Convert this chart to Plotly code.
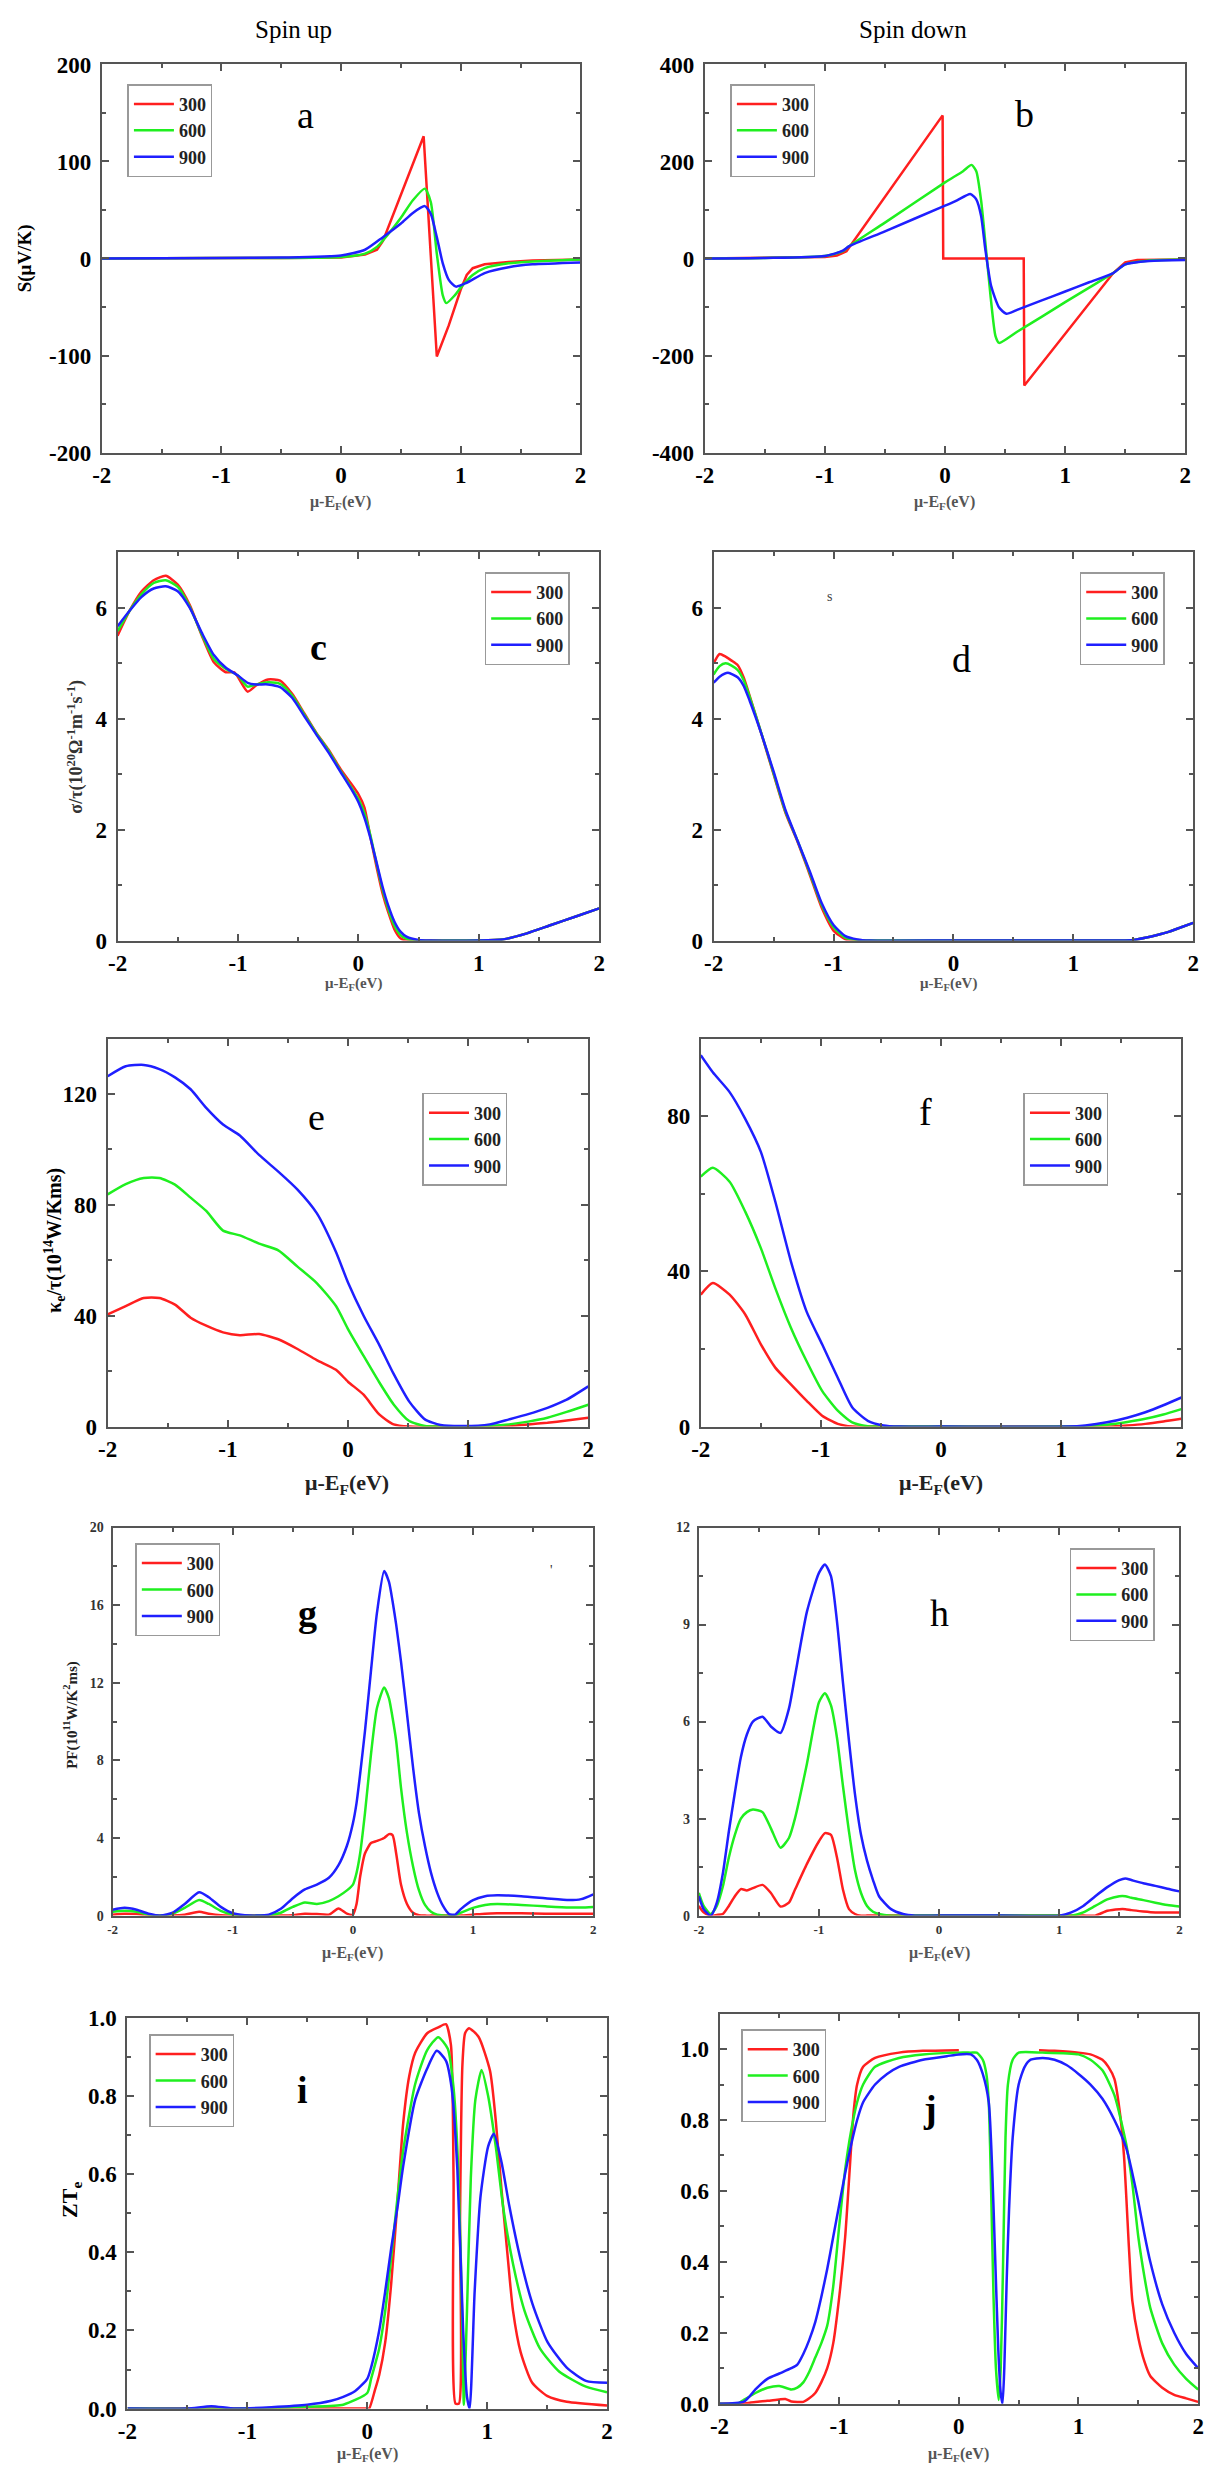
import plotly.graph_objects as go

W, H = 1215, 2481
SERIF = "Liberation Serif"
FRAME = "#555555"

TEMPS = ["300", "600", "900"]
COLORS = ["#ff1f1f", "#1fef1f", "#1f1fff"]

X_TICKS = [-2, -1, 0, 1, 2]

# ---- a: Seebeck, spin up  (x, S in uV/K)
A_300 = [(-2, 0), (-1.5, 0.5), (-1, 0.5), (-0.5, 0.5), (0, 1), (0.2, 4), (0.3, 9), (0.35, 18),
         (0.5, 66), (0.6, 98), (0.69, 126), (0.8, -101), (0.9, -69), (1.0, -32), (1.05, -17),
         (1.1, -10), (1.2, -6), (1.4, -3.5), (1.6, -2), (2.0, -1)]
A_600 = [(-2, 0), (-1, 0.5), (-0.5, 0.5), (0, 1.5), (0.2, 5), (0.3, 12), (0.4, 26), (0.5, 42),
         (0.6, 60), (0.7, 72), (0.75, 58), (0.8, 5), (0.85, -38), (0.88, -46), (0.95, -38),
         (1.0, -30), (1.1, -17), (1.2, -10), (1.4, -5), (1.6, -3), (2.0, -1)]
A_900 = [(-2, 0), (-1, 0.5), (-0.5, 1), (0, 3), (0.2, 9), (0.35, 22), (0.5, 36), (0.6, 47),
         (0.7, 54), (0.75, 46), (0.8, 22), (0.85, -5), (0.9, -22), (0.96, -29), (1.05, -25),
         (1.2, -15), (1.4, -9), (1.6, -6), (2.0, -4)]

# ---- b: Seebeck, spin down
B_300 = [(-2, 0), (-1.5, 1), (-1.0, 3), (-0.9, 6), (-0.82, 15), (-0.02, 295), (-0.015, 0),
         (0.655, 0), (0.66, -262), (1.4, -30), (1.5, -8), (1.6, -3), (1.8, -2), (2.0, -2)]
B_600 = [(-2, 0), (-1.5, 1), (-1.0, 5), (-0.85, 15), (-0.8, 25), (-0.5, 74), (0, 157), (0.15, 180),
         (0.22, 193), (0.26, 180), (0.3, 120), (0.336, 32), (0.38, -80), (0.42, -160), (0.45, -174),
         (0.6, -151), (0.8, -121), (1.0, -90), (1.2, -60), (1.4, -30), (1.5, -12), (1.7, -4), (2.0, -2)]
B_900 = [(-2, 0), (-1.5, 1), (-1.0, 5), (-0.85, 16), (-0.8, 25), (-0.5, 56), (0, 109), (0.1, 120),
         (0.21, 133), (0.26, 122), (0.3, 88), (0.336, 18), (0.384, -57), (0.45, -101), (0.51, -114),
         (0.6, -106), (0.8, -87), (1.0, -68), (1.2, -49), (1.4, -30), (1.5, -12), (1.7, -5), (2.0, -3)]

# ---- c: sigma/tau, spin up
C_300 = [(-2, 5.5), (-1.9, 5.95), (-1.8, 6.3), (-1.7, 6.5), (-1.6, 6.58), (-1.5, 6.42), (-1.4, 6.05),
         (-1.3, 5.5), (-1.2, 5.02), (-1.1, 4.84), (-1.03, 4.84), (-0.92, 4.49), (-0.85, 4.6),
         (-0.75, 4.71), (-0.65, 4.69), (-0.55, 4.45), (-0.45, 4.1), (-0.35, 3.75), (-0.25, 3.45),
         (-0.15, 3.1), (-0.05, 2.8), (0.0, 2.64), (0.05, 2.4), (0.1, 1.87), (0.15, 1.34), (0.2, 0.86),
         (0.25, 0.5), (0.3, 0.2), (0.35, 0.04), (0.4, 0), (0.6, 0), (0.8, 0), (1.0, 0), (1.2, 0.02),
         (1.4, 0.13), (1.6, 0.28), (1.8, 0.43), (2.0, 0.58)]
C_600 = [(-2, 5.58), (-1.9, 5.95), (-1.8, 6.25), (-1.7, 6.45), (-1.6, 6.5), (-1.5, 6.38), (-1.4, 6.02),
         (-1.3, 5.52), (-1.2, 5.08), (-1.1, 4.9), (-1.0, 4.78), (-0.92, 4.58), (-0.85, 4.62),
         (-0.75, 4.66), (-0.65, 4.63), (-0.55, 4.42), (-0.45, 4.08), (-0.35, 3.74), (-0.25, 3.43),
         (-0.15, 3.07), (-0.05, 2.73), (0.0, 2.55), (0.05, 2.3), (0.1, 1.9), (0.15, 1.4), (0.2, 0.93),
         (0.25, 0.56), (0.3, 0.27), (0.35, 0.1), (0.4, 0.03), (0.5, 0), (0.8, 0), (1.0, 0), (1.2, 0.02),
         (1.4, 0.13), (1.6, 0.28), (1.8, 0.43), (2.0, 0.58)]
C_900 = [(-2, 5.67), (-1.9, 5.95), (-1.8, 6.2), (-1.7, 6.35), (-1.6, 6.39), (-1.5, 6.3), (-1.4, 6.0),
         (-1.3, 5.55), (-1.2, 5.15), (-1.1, 4.92), (-1.0, 4.78), (-0.92, 4.65), (-0.85, 4.62),
         (-0.75, 4.62), (-0.65, 4.57), (-0.55, 4.38), (-0.45, 4.05), (-0.35, 3.72), (-0.25, 3.4),
         (-0.15, 3.05), (-0.05, 2.7), (0.0, 2.5), (0.05, 2.22), (0.1, 1.85), (0.15, 1.42), (0.2, 0.98),
         (0.25, 0.62), (0.3, 0.34), (0.35, 0.16), (0.4, 0.07), (0.5, 0.01), (0.6, 0), (1.0, 0),
         (1.2, 0.02), (1.4, 0.13), (1.6, 0.28), (1.8, 0.43), (2.0, 0.58)]

# ---- d: sigma/tau, spin down
D_300 = [(-2, 5.0), (-1.95, 5.17), (-1.9, 5.12), (-1.85, 5.05), (-1.8, 4.97), (-1.75, 4.75), (-1.7, 4.42),
         (-1.6, 3.72), (-1.5, 3.0), (-1.4, 2.3), (-1.3, 1.78), (-1.2, 1.2), (-1.1, 0.6), (-1.0, 0.18),
         (-0.9, 0.02), (-0.85, 0), (0, 0), (1.0, 0), (1.4, 0), (1.5, 0.01), (1.6, 0.05), (1.7, 0.1),
         (1.8, 0.16), (1.9, 0.24), (2.0, 0.32)]
D_600 = [(-2, 4.8), (-1.95, 4.95), (-1.9, 5.0), (-1.85, 4.96), (-1.8, 4.88), (-1.75, 4.7), (-1.7, 4.4),
         (-1.6, 3.73), (-1.5, 3.02), (-1.4, 2.32), (-1.3, 1.8), (-1.2, 1.23), (-1.1, 0.65), (-1.0, 0.24),
         (-0.9, 0.05), (-0.8, 0.01), (-0.7, 0), (0, 0), (1.0, 0), (1.4, 0), (1.5, 0.01), (1.6, 0.05),
         (1.7, 0.1), (1.8, 0.16), (1.9, 0.24), (2.0, 0.32)]
D_900 = [(-2, 4.65), (-1.95, 4.76), (-1.88, 4.83), (-1.8, 4.75), (-1.75, 4.6), (-1.7, 4.33), (-1.6, 3.72),
         (-1.5, 3.05), (-1.4, 2.35), (-1.3, 1.8), (-1.2, 1.26), (-1.1, 0.68), (-1.0, 0.28), (-0.9, 0.08),
         (-0.8, 0.02), (-0.7, 0), (0, 0), (1.0, 0), (1.4, 0), (1.5, 0.01), (1.6, 0.05), (1.7, 0.1),
         (1.8, 0.16), (1.9, 0.24), (2.0, 0.32)]

# ---- e: kappa_e/tau, spin up
E_X = [-2, -1.85, -1.7, -1.57, -1.44, -1.31, -1.18, -1.04, -0.9, -0.74, -0.58, -0.42, -0.26, -0.1,
       0, 0.13, 0.26, 0.38, 0.51, 0.64, 0.77, 0.96, 1.18, 1.34, 1.5, 1.66, 1.82, 2.0]
E_300 = [40.5, 43.5, 46.4, 46.4, 44, 39.3, 36.4, 34, 33, 33.4, 31.5, 28, 24, 20.5,
         16.2, 11.5, 4.4, 0.8, 0, 0, 0, 0, 0.1, 0.3, 0.8, 1.4, 2.2, 3.2]
E_600 = [83.8, 87.5, 89.7, 89.7, 87.3, 82.6, 77.8, 70.7, 69, 66, 63.6, 57.7, 51.8, 43.5,
         35.2, 25.5, 16, 8, 2, 0.2, 0, 0, 0.3, 0.8, 1.8, 3.2, 5.3, 7.9]
E_900 = [126.4, 130, 130.5, 129, 126, 121.7, 115, 109, 105, 98, 92, 85.5, 77, 63,
         52, 40, 29.5, 19, 9, 2.6, 0.6, 0.2, 0.8, 2.6, 4.5, 6.75, 9.7, 14.5]

# ---- f: kappa_e/tau, spin down
F_X = [-2, -1.9, -1.76, -1.63, -1.5, -1.38, -1.25, -1.12, -0.99, -0.86, -0.74, -0.61, -0.48, -0.35,
       0, 1.06, 1.2, 1.38, 1.55, 1.7, 1.85, 2.0]
F_300 = [34, 37, 34, 28.9, 21.2, 15.2, 10.9, 6.7, 2.8, 0.7, 0, 0, 0, 0,
         0, 0, 0, 0, 0.3, 0.7, 1.3, 2.0]
F_600 = [64.4, 66.7, 63.1, 55.4, 46, 35.7, 25.5, 16.9, 9.2, 4.1, 1.1, 0.1, 0, 0,
         0, 0, 0.1, 0.5, 1.2, 2.0, 3.1, 4.5]
F_900 = [95.7, 91.3, 86.2, 79.3, 70.8, 58, 42.6, 29.7, 21.2, 12.6, 5, 1.5, 0.3, 0,
         0, 0, 0.3, 1.1, 2.3, 3.7, 5.5, 7.5]

# ---- g: power factor, spin up
G_X = [-2, -1.9, -1.8, -1.7, -1.6, -1.5, -1.4, -1.28, -1.2, -1.1,
       -1.0, -0.9, -0.8, -0.7, -0.6, -0.5, -0.4, -0.3, -0.2, -0.12,
       -0.05, 0.0, 0.03, 0.06, 0.1, 0.15, 0.2, 0.26, 0.3, 0.33,
       0.36, 0.4, 0.45, 0.5, 0.55, 0.6, 0.65, 0.7, 0.75, 0.8,
       0.85, 0.9, 1.0, 1.1, 1.2, 1.4, 1.6, 1.8, 1.9, 2.0]
G_300 = [0.05, 0.1, 0.08, 0.02, 0, 0, 0.05, 0.2, 0.1, 0.02,
         0, 0, 0, 0, 0, 0.02, 0.1, 0.08, 0.05, 0.37,
         0.1, 0.05, 0.6, 2.0, 3.2, 3.74, 3.85, 4.0, 4.2, 4.15,
         3.2, 1.6, 0.6, 0.15, 0.02, 0, 0, 0, 0, 0,
         0, 0, 0.05, 0.1, 0.12, 0.12, 0.1, 0.1, 0.1, 0.1]
G_600 = [0.2, 0.25, 0.2, 0.05, 0, 0.1, 0.4, 0.8, 0.6, 0.25,
         0.05, 0, 0, 0.02, 0.15, 0.45, 0.68, 0.6, 0.75, 1.0,
         1.3, 1.6, 2.2, 3.2, 5.27, 8.3, 10.7, 11.76, 11.2, 10.2,
         9.0, 6.6, 4.25, 2.55, 1.3, 0.55, 0.2, 0.05, 0.01, 0,
         0.02, 0.15, 0.4, 0.55, 0.6, 0.55, 0.48, 0.42, 0.42, 0.45]
G_900 = [0.3, 0.4, 0.3, 0.1, 0.0, 0.15, 0.6, 1.2, 0.95, 0.45,
         0.12, 0.02, 0, 0.05, 0.35, 0.9, 1.35, 1.6, 1.95, 2.6,
         3.6, 4.76, 5.8, 7.3, 9.5, 12.6, 15.6, 17.76, 17.2, 16.2,
         15.0, 13.1, 10.4, 7.65, 5.27, 3.57, 2.2, 1.2, 0.5, 0.08,
         0.05, 0.35, 0.8, 1.0, 1.05, 1.0, 0.9, 0.8, 0.85, 1.1]

# ---- h: power factor, spin down
H_X = [-2, -1.96, -1.9, -1.85, -1.8, -1.75, -1.7, -1.65, -1.6, -1.55,
       -1.47, -1.4, -1.32, -1.25, -1.2, -1.1, -1.0, -0.95, -0.9, -0.85,
       -0.8, -0.75, -0.7, -0.65, -0.6, -0.55, -0.5, -0.4, -0.3, -0.2,
       0, 0.5, 1.0, 1.1, 1.2, 1.3, 1.4, 1.5, 1.55, 1.6,
       1.7, 1.8, 1.9, 2.0]
H_300 = [0.3, 0.1, 0, 0.02, 0.05, 0.3, 0.6, 0.82, 0.78, 0.85,
         0.95, 0.7, 0.28, 0.4, 0.8, 1.6, 2.3, 2.55, 2.5, 1.8,
         0.8, 0.2, 0.05, 0, 0, 0, 0, 0, 0, 0,
         0, 0, 0, 0, 0, 0, 0.15, 0.2, 0.2, 0.17,
         0.13, 0.1, 0.1, 0.1]
H_600 = [0.7, 0.3, 0.05, 0.3, 0.9, 1.8, 2.5, 3.0, 3.2, 3.28,
         3.2, 2.7, 2.1, 2.4, 3.0, 4.7, 6.6, 6.88, 6.5, 5.5,
         4.0, 2.6, 1.4, 0.7, 0.3, 0.12, 0.05, 0, 0, 0,
         0, 0, 0, 0, 0.1, 0.3, 0.5, 0.6, 0.6, 0.55,
         0.48, 0.4, 0.33, 0.28]
H_900 = [0.6, 0.2, 0.0, 0.4, 1.3, 2.6, 3.8, 4.9, 5.6, 6.0,
         6.15, 5.85, 5.65, 6.4, 7.4, 9.4, 10.6, 10.86, 10.5, 9.1,
         7.2, 5.4, 3.75, 2.5, 1.7, 1.1, 0.6, 0.2, 0.05, 0,
         0, 0, 0, 0.1, 0.3, 0.6, 0.88, 1.1, 1.15, 1.1,
         1.0, 0.92, 0.83, 0.75]

# ---- i: ZTe, spin up
I_300 = [(-2, 0), (-1, 0), (0, 0), (0.016, 0), (0.064, 0.047), (0.1, 0.086), (0.15, 0.17), (0.2, 0.32),
         (0.25, 0.52), (0.3, 0.73), (0.35, 0.85), (0.4, 0.91), (0.5, 0.96), (0.592, 0.975), (0.656, 0.983),
         (0.698, 0.93), (0.72, 0.59), (0.736, 0.013), (0.765, 0.013), (0.774, 0.49), (0.794, 0.88),
         (0.816, 0.96), (0.848, 0.973), (0.928, 0.951), (1.024, 0.864), (1.072, 0.737), (1.12, 0.56),
         (1.168, 0.40), (1.216, 0.25), (1.28, 0.144), (1.376, 0.066), (1.504, 0.032), (1.664, 0.0175),
         (2.0, 0.008)]
I_600 = [(-2, 0), (-1, 0), (-0.5, 0.005), (-0.2, 0.01), (0.0, 0.04), (0.032, 0.076), (0.1, 0.154),
         (0.15, 0.25), (0.2, 0.387), (0.25, 0.533), (0.3, 0.66), (0.4, 0.83), (0.5, 0.917), (0.592, 0.95),
         (0.672, 0.92), (0.72, 0.82), (0.762, 0.59), (0.794, 0.2), (0.806, 0.01), (0.832, 0.25),
         (0.864, 0.59), (0.902, 0.79), (0.954, 0.866), (1.008, 0.8), (1.072, 0.67), (1.136, 0.51),
         (1.216, 0.37), (1.312, 0.25), (1.44, 0.154), (1.6, 0.095), (1.824, 0.056), (2.0, 0.042)]
I_900 = [(-2, 0), (-1.5, 0), (-1.3, 0.006), (-1.1, 0), (-0.5, 0.01), (-0.3, 0.02), (-0.2, 0.03),
         (-0.1, 0.045), (0.0, 0.076), (0.032, 0.105), (0.1, 0.2), (0.15, 0.30), (0.2, 0.41), (0.25, 0.51),
         (0.3, 0.62), (0.4, 0.79), (0.5, 0.87), (0.58, 0.915), (0.656, 0.89), (0.704, 0.82), (0.752, 0.61),
         (0.8, 0.2), (0.832, 0.03), (0.854, 0), (0.896, 0.3), (0.944, 0.54), (1.008, 0.67), (1.056, 0.703),
         (1.12, 0.63), (1.184, 0.52), (1.28, 0.38), (1.376, 0.27), (1.504, 0.17), (1.664, 0.105),
         (1.824, 0.071), (2.0, 0.066)]

# ---- j: ZTe, spin down (300 K has no points between 0 and 0.67)
J_300 = [(-2, 0), (-1.8, 0), (-1.7, 0.005), (-1.6, 0.008), (-1.5, 0.012), (-1.45, 0.013), (-1.4, 0.006),
         (-1.3, 0.005), (-1.25, 0.015), (-1.2, 0.03), (-1.15, 0.06), (-1.1, 0.1), (-1.05, 0.17),
         (-1.0, 0.3), (-0.95, 0.47), (-0.92, 0.62), (-0.88, 0.82), (-0.85, 0.9), (-0.8, 0.95),
         (-0.7, 0.975), (-0.5, 0.99), (-0.3, 0.995), (0.0, 0.997), (0.3, None), (0.67, 0.997),
         (0.8, 0.995), (1.0, 0.99), (1.1, 0.985), (1.2, 0.97), (1.25, 0.95), (1.3, 0.916), (1.35, 0.81),
         (1.38, 0.7), (1.4, 0.58), (1.42, 0.45), (1.45, 0.29), (1.5, 0.186), (1.55, 0.12), (1.6, 0.078),
         (1.7, 0.045), (1.8, 0.025), (1.9, 0.015), (2.0, 0.005)]
J_600 = [(-2, 0), (-1.85, 0), (-1.8, 0.01), (-1.7, 0.03), (-1.6, 0.045), (-1.5, 0.05), (-1.4, 0.04),
         (-1.35, 0.045), (-1.3, 0.06), (-1.25, 0.09), (-1.2, 0.13), (-1.15, 0.17), (-1.1, 0.22),
         (-1.05, 0.33), (-1.0, 0.5), (-0.95, 0.66), (-0.9, 0.77), (-0.85, 0.85), (-0.8, 0.9),
         (-0.7, 0.95), (-0.5, 0.975), (-0.3, 0.985), (0.0, 0.99), (0.1, 0.99), (0.15, 0.99), (0.2, 0.97),
         (0.23, 0.93), (0.25, 0.85), (0.27, 0.6), (0.29, 0.3), (0.31, 0.1), (0.333, 0.01), (0.35, 0.1),
         (0.37, 0.4), (0.39, 0.75), (0.41, 0.9), (0.45, 0.97), (0.5, 0.99), (0.7, 0.99), (1.0, 0.985),
         (1.1, 0.97), (1.2, 0.94), (1.3, 0.87), (1.4, 0.73), (1.45, 0.62), (1.5, 0.47), (1.55, 0.36),
         (1.6, 0.27), (1.7, 0.17), (1.8, 0.11), (1.9, 0.07), (2.0, 0.04)]
J_900 = [(-2, 0), (-1.8, 0.005), (-1.75, 0.02), (-1.7, 0.04), (-1.6, 0.07), (-1.5, 0.085), (-1.4, 0.1),
         (-1.35, 0.11), (-1.3, 0.14), (-1.25, 0.18), (-1.2, 0.23), (-1.15, 0.3), (-1.1, 0.38),
         (-1.05, 0.47), (-1.0, 0.56), (-0.95, 0.65), (-0.9, 0.73), (-0.85, 0.8), (-0.8, 0.85),
         (-0.7, 0.9), (-0.6, 0.93), (-0.5, 0.95), (-0.3, 0.97), (-0.1, 0.98), (0.0, 0.985), (0.1, 0.985),
         (0.15, 0.97), (0.2, 0.93), (0.25, 0.85), (0.28, 0.65), (0.3, 0.45), (0.33, 0.15), (0.35, 0.03),
         (0.365, 0), (0.38, 0.1), (0.4, 0.35), (0.42, 0.55), (0.45, 0.75), (0.5, 0.9), (0.55, 0.95),
         (0.6, 0.97), (0.7, 0.975), (0.8, 0.97), (0.9, 0.955), (1.0, 0.93), (1.1, 0.9), (1.2, 0.86),
         (1.3, 0.8), (1.4, 0.72), (1.45, 0.65), (1.5, 0.57), (1.55, 0.48), (1.6, 0.4), (1.7, 0.28),
         (1.8, 0.2), (1.9, 0.14), (2.0, 0.1)]


def unzip(pairs):
    return [p[0] for p in pairs], [p[1] for p in pairs]


def shared(xs, ys):
    if len(xs) != len(ys):
        raise ValueError(f"length mismatch {len(xs)} vs {len(ys)}")
    return xs, ys


XT_TEXT = "μ-E<sub>F</sub>(eV)"

# box = (left, top, right, bottom) in page pixels
PANELS = [
    dict(box=(93, 53, 578, 445), yr=[-200, 200], yt=[-200, -100, 0, 100, 200], ymin=50, fmt="{:g}",
         tfs=23, curves=[unzip(A_300), unzip(A_600), unzip(A_900)], shapes=["linear", "spline", "spline"],
         leg=(119, 73), lab="a", lxy=(-0.30, 148), lbold=False,
         ytitle=("S(μV/K)", 16, 249, 19, "black"), xtitle=(335, 495, 16, "#555")),
    dict(box=(704, 53, 1191, 445), yr=[-400, 400], yt=[-400, -200, 0, 200, 400], ymin=100, fmt="{:g}",
         tfs=23, curves=[unzip(B_300), unzip(B_600), unzip(B_900)], shapes=["linear", "spline", "spline"],
         leg=(730, 73), lab="b", lxy=(0.66, 297), lbold=False,
         ytitle=None, xtitle=(947, 495, 16, "#555")),
    dict(box=(109, 546, 597, 938), yr=[0, 7], yt=[0, 2, 4, 6], ymin=1, fmt="{:g}",
         tfs=23, curves=[unzip(C_300), unzip(C_600), unzip(C_900)], shapes=["spline"] * 3,
         leg=(481, 566), lab="c", lxy=(-0.33, 5.29), lbold=True,
         ytitle=("σ/τ(10<sup>20</sup>Ω<sup>-1</sup>m<sup>-1</sup>s<sup>-1</sup>)", 66, 742, 18, "#333"),
         xtitle=(348, 982, 15, "#555")),
    dict(box=(713, 546, 1199, 938), yr=[0, 7], yt=[0, 2, 4, 6], ymin=1, fmt="{:g}",
         tfs=23, curves=[unzip(D_300), unzip(D_600), unzip(D_900)], shapes=["spline"] * 3,
         leg=(1084, 566), lab="d", lxy=(0.07, 5.08), lbold=False,
         ytitle=None, xtitle=(951, 982, 15, "#555")),
    dict(box=(99, 1037, 586, 1429), yr=[0, 140], yt=[0, 40, 80, 120], ymin=20, fmt="{:g}",
         tfs=23, curves=[shared(E_X, E_300), shared(E_X, E_600), shared(E_X, E_900)], shapes=["spline"] * 3,
         leg=(418, 1092), lab="e", lxy=(-0.26, 111.7), lbold=False,
         ytitle=("κ<sub>e</sub>/τ(10<sup>14</sup>W/Kms)", 46, 1241, 20, "black"),
         xtitle=(342, 1487, 22, "#222")),
    dict(box=(700, 1037, 1187, 1429), yr=[0, 100], yt=[0, 40, 80], ymin=20, fmt="{:g}",
         tfs=23, curves=[shared(F_X, F_300), shared(F_X, F_600), shared(F_X, F_900)], shapes=["spline"] * 3,
         leg=(1027, 1092), lab="f", lxy=(-0.13, 81), lbold=False,
         ytitle=None, xtitle=(943, 1487, 22, "#222")),
    dict(box=(104, 1531, 591, 1923), yr=[0, 20], yt=[0, 4, 8, 12, 16, 20], ymin=2, fmt="{:g}",
         tfs=13, curves=[shared(G_X, G_300), shared(G_X, G_600), shared(G_X, G_900)], shapes=["spline"] * 3,
         leg=(127, 1547), lab="g", lxy=(-0.38, 15.6), lbold=True,
         ytitle=("PF(10<sup>11</sup>W/K<sup>2</sup>ms)", 62, 1720, 15, "#222"),
         xtitle=(347, 1961, 16, "#555")),
    dict(box=(698, 1531, 1185, 1923), yr=[0, 12], yt=[0, 3, 6, 9, 12], ymin=1.5, fmt="{:g}",
         tfs=13, curves=[shared(H_X, H_300), shared(H_X, H_600), shared(H_X, H_900)], shapes=["spline"] * 3,
         leg=(1074, 1552), lab="h", lxy=(0.0, 9.37), lbold=False,
         ytitle=None, xtitle=(942, 1961, 16, "#555")),
    dict(box=(119, 2026, 605, 2421), yr=[0, 1.0], yt=[0, 0.2, 0.4, 0.6, 0.8, 1.0], ymin=0.1, fmt="{:.1f}",
         tfs=23, curves=[unzip(I_300), unzip(I_600), unzip(I_900)], shapes=["spline"] * 3,
         leg=(141, 2043), lab="i", lxy=(-0.54, 0.815), lbold=True,
         ytitle=("ZT<sub>e</sub>", 62, 2210, 22, "black"), xtitle=(362, 2467, 16, "#555")),
    dict(box=(719, 2022, 1204, 2416), yr=[0, 1.1], yt=[0, 0.2, 0.4, 0.6, 0.8, 1.0], ymin=0.1, fmt="{:.1f}",
         tfs=23, curves=[unzip(J_300), unzip(J_600), unzip(J_900)], shapes=["spline"] * 3,
         leg=(741, 2038), lab="j", lxy=(-0.24, 0.83), lbold=True,
         ytitle=None, xtitle=(961, 2467, 16, "#555")),
]


def minor_vals(lo, hi, step):
    vals, v = [], lo
    while v <= hi + 1e-9:
        vals.append(round(v, 6))
        v += step
    return vals


fig = go.Figure()
layout = dict(width=W, height=H, margin=dict(l=0, r=0, t=0, b=0), autosize=False,
              plot_bgcolor="white", paper_bgcolor="white", showlegend=True)
annotations = []

for n, p in enumerate(PANELS, start=1):
    sfx = "" if n == 1 else str(n)
    l, t, r, b = p["box"]
    small = p["tfs"] < 20
    tick_col = "#333" if small else "black"
    common = dict(showline=True, linecolor=FRAME, linewidth=2, mirror="ticks", showgrid=False,
                  zeroline=False, ticks="inside", ticklen=7, tickwidth=2, tickcolor=FRAME)
    layout["xaxis" + sfx] = dict(
        domain=[l / W, r / W], anchor="y" + sfx, range=[-2, 2],
        tickmode="array", tickvals=X_TICKS, ticktext=[str(v) for v in X_TICKS],
        minor=dict(tickmode="array", tickvals=minor_vals(-1.5, 1.5, 1.0), ticks="inside",
                   ticklen=4, tickwidth=1.5, tickcolor=FRAME),
        ticklabelstandoff=1,
        tickfont=dict(family=SERIF, size=p["tfs"], color=tick_col, weight="bold"), **common)
    step = p["yt"][1] - p["yt"][0]
    layout["yaxis" + sfx] = dict(
        domain=[1 - b / H, 1 - t / H], anchor="x" + sfx, range=p["yr"],
        tickmode="array", tickvals=p["yt"], ticktext=[p["fmt"].format(v) for v in p["yt"]],
        minor=dict(tickmode="array", tickvals=minor_vals(p["yr"][0] + p["ymin"], p["yr"][1], step),
                   ticks="inside", ticklen=4, tickwidth=1.5, tickcolor=FRAME),
        ticklabelstandoff=4,
        tickfont=dict(family=SERIF, size=p["tfs"] + (1 if small else 0), color=tick_col, weight="bold"),
        **common)

    leg = "legend" + sfx
    layout[leg] = dict(x=p["leg"][0] / W, y=1 - p["leg"][1] / H, xanchor="left", yanchor="top",
                       bgcolor="white", bordercolor="#999999", borderwidth=1.5,
                       font=dict(family=SERIF, size=18, color="#222", weight="bold"),
                       itemwidth=40, tracegroupgap=0)

    for temp, col, (xs, ys), shape in zip(TEMPS, COLORS, p["curves"], p["shapes"]):
        line = dict(color=col, width=2.5, shape=shape)
        if shape == "spline":
            line["smoothing"] = 0.6
        fig.add_trace(go.Scatter(x=xs, y=ys, mode="lines", name=temp, line=line,
                                 xaxis="x" + sfx, yaxis="y" + sfx, legend=leg))

    annotations.append(dict(x=p["lxy"][0], y=p["lxy"][1], xref="x" + sfx, yref="y" + sfx,
                            text=p["lab"], showarrow=False, xanchor="center", yanchor="middle",
                            font=dict(family=SERIF, size=38, color="black",
                                      weight="bold" if p["lbold"] else "normal")))

    xt = p["xtitle"]
    annotations.append(dict(x=xt[0] / W, y=1 - xt[1] / H, xref="paper", yref="paper",
                            text=XT_TEXT, showarrow=False, xanchor="center", yanchor="middle",
                            font=dict(family=SERIF, size=xt[2], color=xt[3], weight="bold")))
    if p["ytitle"]:
        yt = p["ytitle"]
        annotations.append(dict(x=yt[1] / W, y=1 - yt[2] / H, xref="paper", yref="paper",
                                text=yt[0], showarrow=False, textangle=-90,
                                xanchor="center", yanchor="middle",
                                font=dict(family=SERIF, size=yt[3], color=yt[4], weight="bold")))

# column headings
for label, cx in (("Spin up", 287), ("Spin down", 915)):
    annotations.append(dict(x=cx / W, y=1 - 18 / H, xref="paper", yref="paper", text=label,
                            showarrow=False, xanchor="center", yanchor="middle",
                            font=dict(family=SERIF, size=25, color="black")))
# stray marks left in the original figure
annotations.append(dict(x=-1.03, y=6.21, xref="x4", yref="y4", text="s", showarrow=False,
                        font=dict(family=SERIF, size=14, color="#444")))
annotations.append(dict(x=1.65, y=17.8, xref="x7", yref="y7", text="'", showarrow=False,
                        font=dict(family=SERIF, size=14, color="#333")))

layout["annotations"] = annotations
fig.update_layout(**layout)
# drop the default page margin so the figure sits at the window's top-left corner
fig.write_html("out.html", config=dict(displayModeBar=False),
               post_script="document.body.style.margin='0';")
